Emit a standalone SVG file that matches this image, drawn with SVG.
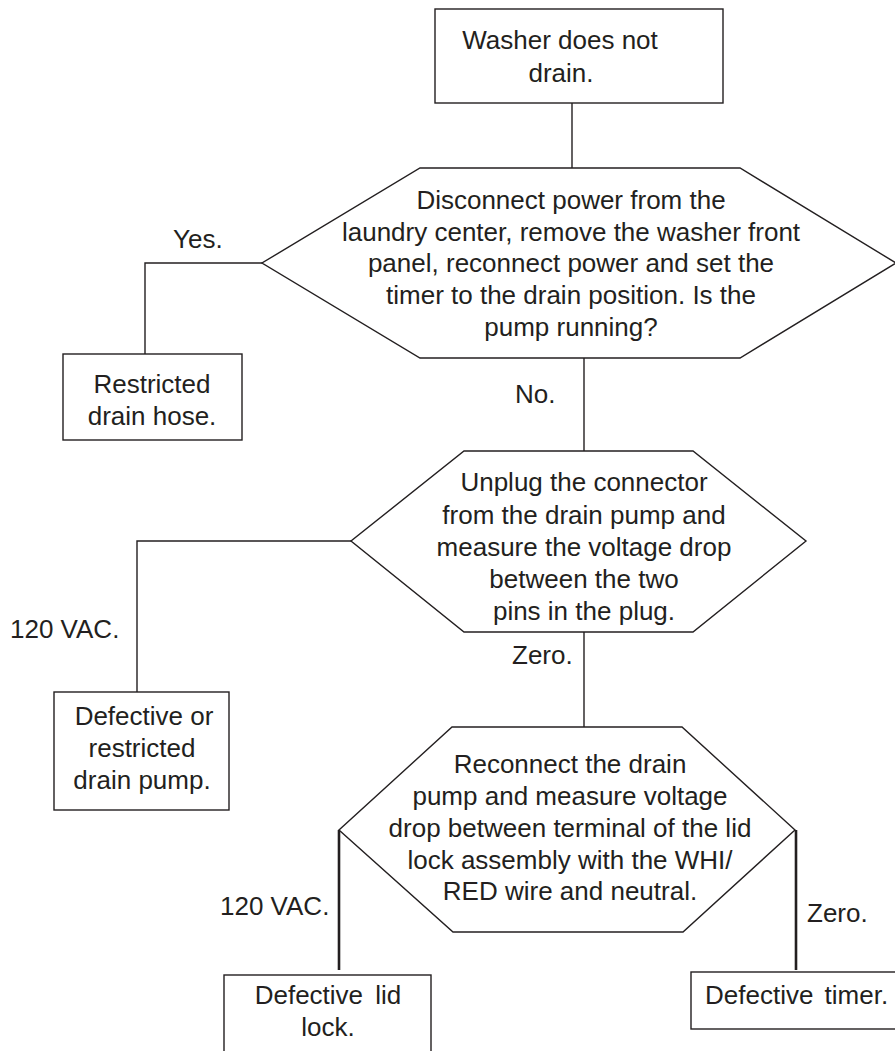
<svg xmlns="http://www.w3.org/2000/svg" width="895" height="1051" viewBox="0 0 895 1051">
<style>
.n{fill:#fff;stroke:#231f20;stroke-width:1.4}
.c{fill:none;stroke:#231f20;stroke-width:1.4}
.t{stroke-width:2.6}
text{font-family:"Liberation Sans",Arial,sans-serif;font-size:26px;fill:#231f20}
.m{text-anchor:middle}
</style>
<rect width="895" height="1051" fill="#fff"/>
<g id="connectors">
<path class="c" d="M572,103V168"/>
<path class="c" d="M262,263H145V354"/>
<path class="c" d="M584,358V451"/>
<path class="c" d="M351,541H137V692"/>
<path class="c" d="M584,632V727"/>
<path class="c t" d="M339,830V970"/>
<path class="c t" d="M796,830V970"/>
<text x="173" y="248">Yes.</text>
<text x="515" y="403">No.</text>
<text x="10" y="638">120 VAC.</text>
<text x="512" y="664">Zero.</text>
<text x="220" y="915">120 VAC.</text>
<text x="807" y="922">Zero.</text>
</g>
<g id="start">
<rect class="n" x="435" y="9" width="288" height="94"/>
<text class="m" x="560" y="49">Washer does not</text>
<text class="m" x="561" y="82">drain.</text>
</g>
<g id="q1">
<polygon class="n" points="420,168 740,168 896,263 740,358 420,358 262,263"/>
<text class="m" x="571" y="209">Disconnect power from the</text>
<text class="m" x="571" y="241">laundry center, remove the washer front</text>
<text class="m" x="571" y="272">panel, reconnect power and set the</text>
<text class="m" x="571" y="304">timer to the drain position. Is the</text>
<text class="m" x="571" y="336">pump running?</text>
</g>
<g id="hose">
<rect class="n" x="63" y="354" width="179" height="86"/>
<text class="m" x="152" y="393">Restricted</text>
<text class="m" x="152" y="425">drain hose.</text>
</g>
<g id="q2">
<polygon class="n" points="464,451 693,451 806,541 693,632 464,632 351,541"/>
<text class="m" x="584" y="491">Unplug the connector</text>
<text class="m" x="584" y="524">from the drain pump and</text>
<text class="m" x="584" y="556">measure the voltage drop</text>
<text class="m" x="584" y="588">between the two</text>
<text class="m" x="584" y="620">pins in the plug.</text>
</g>
<g id="pump">
<rect class="n" x="54" y="692" width="175" height="118"/>
<text class="m" x="144" y="725">Defective or</text>
<text class="m" x="142" y="757">restricted</text>
<text class="m" x="142" y="789">drain pump.</text>
</g>
<g id="q3">
<polygon class="n" points="452,727 682,727 795,830 683,932 453,932 339,830"/>
<text class="m" x="570" y="773">Reconnect the drain</text>
<text class="m" x="570" y="805">pump and measure voltage</text>
<text class="m" x="570" y="837">drop between terminal of the lid</text>
<text class="m" x="570" y="869">lock assembly with the WHI/</text>
<text class="m" x="570" y="900">RED wire and neutral.</text>
</g>
<g id="lidlock">
<rect class="n" x="224" y="975" width="207" height="100"/>
<text class="m" x="328" y="1004" word-spacing="5">Defective lid</text>
<text class="m" x="328" y="1036">lock.</text>
</g>
<g id="timer">
<rect class="n" x="691" y="972" width="220" height="57"/>
<text x="705" y="1004" word-spacing="4">Defective timer.</text>
</g>
</svg>
